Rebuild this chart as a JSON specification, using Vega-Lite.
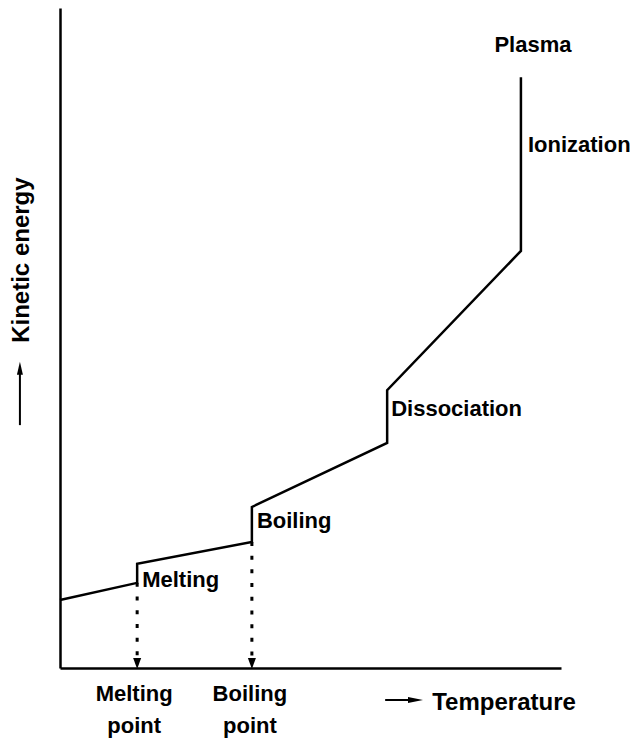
{
  "$schema": "https://vega.github.io/schema/vega-lite/v6.json",
  "width": 501,
  "height": 660,
  "autosize": {"type": "none"},
  "padding": {"left": 60, "top": 8, "right": 72, "bottom": 70},
  "background": "white",
  "config": {
    "view": {"stroke": null},
    "font": "Liberation Sans",
    "text": {"font": "Liberation Sans", "fontWeight": "bold", "fontSize": 22, "color": "black", "baseline": "middle"}
  },
  "datasets": {
    "curve": [
      {"i": 1, "t": 0, "e": 10.3},
      {"i": 2, "t": 15.4, "e": 12.9},
      {"i": 3, "t": 15.4, "e": 15.8},
      {"i": 4, "t": 38.3, "e": 19.1},
      {"i": 5, "t": 38.3, "e": 24.4},
      {"i": 6, "t": 65.3, "e": 34.1},
      {"i": 7, "t": 65.3, "e": 42.1},
      {"i": 8, "t": 92.0, "e": 63.2},
      {"i": 9, "t": 92.0, "e": 89.5}
    ],
    "drops": [
      {"t": 15.4, "e": 12.9, "e0": 1.4},
      {"t": 38.3, "e": 19.1, "e0": 1.4}
    ],
    "phaseLabels": [
      {"t": 93.4, "e": 79.2, "label": "Ionization"},
      {"t": 66.1, "e": 39.2, "label": "Dissociation"},
      {"t": 39.3, "e": 22.3, "label": "Boiling"},
      {"t": 16.4, "e": 13.3, "label": "Melting"},
      {"t": 74.3, "e": -5.3, "label": "Temperature"}
    ],
    "centerLabels": [
      {"t": 94.4, "e": 94.4, "label": "Plasma"},
      {"t": 14.8, "e": -3.9, "label": "Melting"},
      {"t": 14.8, "e": -8.8, "label": "point"},
      {"t": 37.9, "e": -3.9, "label": "Boiling"},
      {"t": 37.9, "e": -8.8, "label": "point"}
    ]
  },
  "encoding": {
    "x": {"type": "quantitative", "scale": {"domain": [0, 100], "nice": false, "zero": false},
          "axis": {"title": null, "labels": false, "ticks": false, "grid": false, "domainColor": "black", "domainWidth": 2.5}},
    "y": {"type": "quantitative", "scale": {"domain": [0, 100], "nice": false, "zero": false},
          "axis": {"title": null, "labels": false, "ticks": false, "grid": false, "domainColor": "black", "domainWidth": 2.5}}
  },
  "layer": [
    {
      "data": {"name": "curve"},
      "mark": {"type": "line", "color": "black", "strokeWidth": 2.5, "clip": false},
      "encoding": {
        "x": {"field": "t", "type": "quantitative"},
        "y": {"field": "e", "type": "quantitative"},
        "order": {"field": "i", "type": "quantitative"}
      }
    },
    {
      "data": {"name": "drops"},
      "mark": {"type": "rule", "color": "black", "strokeWidth": 3, "strokeDash": [4, 9.7]},
      "encoding": {
        "x": {"field": "t", "type": "quantitative"},
        "y": {"field": "e", "type": "quantitative"},
        "y2": {"field": "e0"}
      }
    },
    {
      "data": {"name": "drops"},
      "mark": {"type": "point", "shape": "M-0.73,-1L0.73,-1L0,1Z", "filled": true, "color": "black", "size": 121, "opacity": 1, "clip": false},
      "encoding": {
        "x": {"field": "t", "type": "quantitative"},
        "y": {"datum": 0.68}
      }
    },
    {
      "data": {"values": [{}]},
      "mark": {"type": "rule", "color": "black", "strokeWidth": 2, "clip": false},
      "encoding": {
        "x": {"datum": 64.9},
        "x2": {"datum": 69.9},
        "y": {"datum": -4.85}
      }
    },
    {
      "data": {"values": [{}]},
      "mark": {"type": "point", "shape": "M1,0L-1,0.4L-1,-0.4Z", "filled": true, "color": "black", "size": 225, "opacity": 1, "clip": false},
      "encoding": {
        "x": {"datum": 70.96},
        "y": {"datum": -4.85}
      }
    },
    {
      "data": {"values": [{}]},
      "mark": {"type": "rule", "color": "black", "strokeWidth": 2, "clip": false},
      "encoding": {
        "x": {"datum": -8.0},
        "y": {"datum": 36.8},
        "y2": {"datum": 45.0}
      }
    },
    {
      "data": {"values": [{}]},
      "mark": {"type": "point", "shape": "M0,-1L0.46,1L-0.46,1Z", "filled": true, "color": "black", "size": 169, "opacity": 1, "clip": false},
      "encoding": {
        "x": {"datum": -8.0},
        "y": {"datum": 45.4}
      }
    },
    {
      "data": {"name": "phaseLabels"},
      "mark": {"type": "text", "align": "left"},
      "encoding": {
        "x": {"field": "t", "type": "quantitative"},
        "y": {"field": "e", "type": "quantitative"},
        "text": {"field": "label"},
        "size": {"condition": {"test": "datum.label === 'Temperature'", "value": 24}, "value": 22}
      }
    },
    {
      "data": {"name": "centerLabels"},
      "mark": {"type": "text", "align": "center"},
      "encoding": {
        "x": {"field": "t", "type": "quantitative"},
        "y": {"field": "e", "type": "quantitative"},
        "text": {"field": "label"}
      }
    },
    {
      "data": {"values": [{"label": "Kinetic energy"}]},
      "mark": {"type": "text", "align": "center", "angle": 270, "fontSize": 24},
      "encoding": {
        "x": {"datum": -7.6},
        "y": {"datum": 61.8},
        "text": {"field": "label"}
      }
    }
  ]
}
